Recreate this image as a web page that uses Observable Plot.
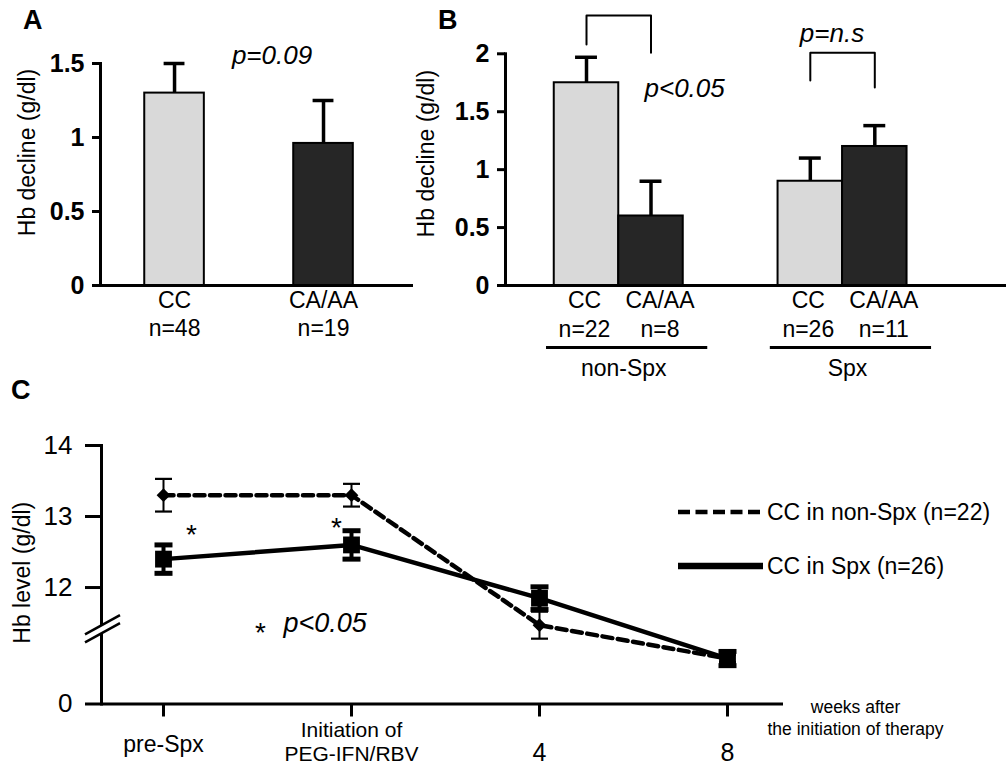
<!DOCTYPE html>
<html>
<head>
<meta charset="utf-8">
<script src="https://cdn.jsdelivr.net/npm/d3@7"></script>
<script src="https://cdn.jsdelivr.net/npm/@observablehq/plot@0.6"></script>
<style>
  html, body { margin: 0; padding: 0; background: #fff; }
  #fig { position: relative; width: 1006px; height: 770px; overflow: hidden; background: #fff;
         font-family: "Liberation Sans", Arial, Helvetica, sans-serif; color: #000; }
  .panel { position: absolute; }
  .letter { position: absolute; font-weight: bold; font-size: 27px; line-height: 1; }
  .bold-ticks g[aria-label="y-axis tick label"] text { font-weight: bold; }
  .legend-row { position: absolute; display: flex; align-items: center; font-size: 23px; white-space: nowrap; }
</style>
</head>
<body>
<div id="fig"></div>
<script>
// ---------------- data ----------------
// Panel A
const genotypesA = ["CC", "CA/AA"];
const nA = ["n=48", "n=19"];
const meanA = [1.30, 0.96];
const errA = [0.20, 0.29];
const ticksA = [0, 0.5, 1, 1.5];
const pA = "p=0.09";

// Panel B
const groupsB = ["non-Spx", "Spx"];
const genotypesB = ["CC", "CA/AA"];
const nB = [["n=22", "n=8"], ["n=26", "n=11"]];
const meanB = [[1.75, 0.60], [0.90, 1.20]];
const errB = [[0.22, 0.30], [0.20, 0.18]];
const ticksB = [0, 0.5, 1, 1.5, 2];
const pB = ["p<0.05", "p=n.s"];
// comparison brackets: [top, left end, right end]
const bracketB = [[2.33, 2.08, 2.01], [2.01, 1.77, 1.71]];

const yLabelAB = "Hb decline (g/dl)";

// Panel C
const timepoints = ["pre-Spx", "Initiation of\nPEG-IFN/RBV", "4", "8"];
const seriesC = ["CC in non-Spx (n=22)", "CC in Spx (n=26)"];
const hbNonSpx = [13.3, 13.3, 11.47, 11.0];
const errNonSpx = [0.23, 0.16, 0.19, 0.05];
const hbSpx = [12.4, 12.6, 11.85, 11.0];
const errSpx = [0.20, 0.20, 0.16, 0.10];
const ticksC = [0, 12, 13, 14];
const yLabelC = "Hb level (g/dl)";
const xNoteC = "weeks after\nthe initiation of therapy";
const sigNoteC = "p<0.05";
const sigAt = ["pre-Spx", "Initiation of\nPEG-IFN/RBV"];

// ---------------- styles / layout ----------------
const FONT = "'Liberation Sans', Arial, Helvetica, sans-serif";
const genotypeFill = ["#d9d9d9", "#262626"];
const fig = document.getElementById("fig");
function place(el, left, top) {
  el.classList.add("panel");
  el.style.left = left + "px";
  el.style.top = top + "px";
  fig.appendChild(el);
  return el;
}
const baseStyle = {fontFamily: FONT, fontSize: "23px", background: "transparent", overflow: "visible", color: "black"};
const fmtNum = d => String(d);

// ---------------- Panel A ----------------
const barHalfA = 0.2, capA = 0.07;
const rowsA = genotypesA.map((g, i) => ({genotype: g, slot: i, mean: meanA[i], err: errA[i], n: nA[i], fill: genotypeFill[i]}));
const plotA = Plot.plot({
  width: 420, height: 380,
  marginLeft: 100, marginRight: 7, marginTop: 63, marginBottom: 95,
  style: baseStyle,
  className: "bold-ticks",
  x: {type: "linear", domain: [-0.497, 1.604], axis: null},
  y: {domain: [0, 1.5], axis: null},
  color: {type: "identity"},
  marks: [
    Plot.rectY(rowsA, {x1: d => d.slot - barHalfA, x2: d => d.slot + barHalfA, y1: 0, y2: "mean", fill: "fill", stroke: "black", strokeWidth: 2}),
    Plot.ruleX(rowsA, {x: "slot", y1: "mean", y2: d => d.mean + d.err, strokeWidth: 3.5}),
    Plot.ruleY(rowsA, {y: d => d.mean + d.err, x1: d => d.slot - capA, x2: d => d.slot + capA, strokeWidth: 3.5}),
    Plot.axisY({ticks: ticksA, tickFormat: fmtNum, tickSize: 8, tickPadding: 8, strokeWidth: 3, fontSize: 25, fontWeight: "bold", label: null}),
    Plot.frame({anchor: "left", strokeWidth: 3}),
    Plot.ruleY([0], {strokeWidth: 3}),
    Plot.text(rowsA, {x: "slot", y: 0, text: "genotype", dy: 15, fontSize: 23}),
    Plot.text(rowsA, {x: "slot", y: 0, text: "n", dy: 43, fontSize: 23}),
    Plot.text([yLabelAB], {text: d => d, frameAnchor: "left", textAnchor: "middle", lineAnchor: "middle", rotate: -90, dx: -73, dy: -22, fontSize: 23}),
    Plot.text([pA], {text: d => d, frameAnchor: "top", textAnchor: "middle", lineAnchor: "middle", dx: 15, dy: -8, fontSize: 26, fontStyle: "italic"})
  ]
});
place(plotA, 0, 0);

// ---------------- Panel B ----------------
const groupStepB = 3.47, barHalfB = 0.5, capB = 0.17;
const labelDxB = [-2, 9];
const rowsB = groupsB.flatMap((grp, gi) => genotypesB.map((g, si) => ({
  group: grp, genotype: g, si, slot: gi * groupStepB + si,
  mean: meanB[gi][si], err: errB[gi][si], n: nB[gi][si], fill: genotypeFill[si]
})));
const groupRowsB = groupsB.map((grp, gi) => ({group: grp, center: gi * groupStepB + 0.5}));
const bracketRows = groupsB.flatMap((grp, gi) => {
  const [top, l, r] = bracketB[gi];
  const s0 = gi * groupStepB, s1 = s0 + 1;
  return [{grp, x: s0, y: l}, {grp, x: s0, y: top}, {grp, x: s1, y: top}, {grp, x: s1, y: r}];
});
const plotB = Plot.plot({
  width: 606, height: 380,
  marginLeft: 105, marginRight: 0, marginTop: 53.3, marginBottom: 95,
  style: baseStyle,
  className: "bold-ticks",
  x: {type: "linear", domain: [-1.256, 6.512], axis: null},
  y: {domain: [0, 2], axis: null},
  color: {type: "identity"},
  marks: [
    Plot.rectY(rowsB, {x1: d => d.slot - barHalfB, x2: d => d.slot + barHalfB, y1: 0, y2: "mean", fill: "fill", stroke: "black", strokeWidth: 2}),
    Plot.ruleX(rowsB, {x: "slot", y1: "mean", y2: d => d.mean + d.err, strokeWidth: 3.5}),
    Plot.ruleY(rowsB, {y: d => d.mean + d.err, x1: d => d.slot - capB, x2: d => d.slot + capB, strokeWidth: 3.5}),
    Plot.axisY({ticks: ticksB, tickFormat: fmtNum, tickSize: 8, tickPadding: 8, strokeWidth: 3, fontSize: 25, fontWeight: "bold", label: null}),
    Plot.frame({anchor: "left", strokeWidth: 3}),
    Plot.ruleY([0], {strokeWidth: 3}),
    Plot.line(bracketRows, {x: "x", y: "y", z: "grp", strokeWidth: 2}),
    ...genotypesB.map((g, si) => Plot.text(rowsB.filter(d => d.si === si), {x: "slot", y: 0, text: "genotype", dy: 15, dx: labelDxB[si], fontSize: 23})),
    ...genotypesB.map((g, si) => Plot.text(rowsB.filter(d => d.si === si), {x: "slot", y: 0, text: "n", dy: 44, dx: labelDxB[si], fontSize: 23})),
    Plot.ruleY(groupRowsB, {y: 0, x1: d => d.center - 1.12, x2: d => d.center + 1.38, dy: 62, strokeWidth: 3}),
    Plot.text(groupRowsB, {x: "center", y: 0, text: "group", dy: 83, dx: 5, fontSize: 23}),
    Plot.text([yLabelAB], {text: d => d, frameAnchor: "left", textAnchor: "middle", lineAnchor: "middle", rotate: -90, dx: -79, dy: -16, fontSize: 23}),
    Plot.text([pB[0]], {text: d => d, frameAnchor: "top-left", textAnchor: "start", lineAnchor: "middle", dx: 139, dy: 35, fontSize: 26, fontStyle: "italic"}),
    Plot.text([pB[1]], {text: d => d, frameAnchor: "top-left", textAnchor: "middle", lineAnchor: "middle", dx: 326.5, dy: -20, fontSize: 26, fontStyle: "italic"})
  ]
});
place(plotB, 400, 0);

// ---------------- Panel C ----------------
const yFloor = 10.36;   // value where the broken axis shows its "0"
const yBreak = 11.4;    // where the axis break marks sit
const brokenY = v => (v === 0 ? yFloor : v);
const rowsC = [
  ...timepoints.map((t, i) => ({series: seriesC[0], time: t, hb: hbNonSpx[i], err: errNonSpx[i]})),
  ...timepoints.map((t, i) => ({series: seriesC[1], time: t, hb: hbSpx[i], err: errSpx[i]}))
];
const nonSpx = rowsC.filter(d => d.series === seriesC[0]);
const spx = rowsC.filter(d => d.series === seriesC[1]);
const sigRows = sigAt.map(t => {
  const a = nonSpx.find(d => d.time === t), b = spx.find(d => d.time === t);
  return {time: t, mid: (a.hb + b.hb) / 2};
});
const timeLabelDy = [39.5, 37, 47.5, 47.5];
const timeLabelSize = [23, 21, 25, 25];
const sigDx = [28, -15];
const dashC = "10,5.5";
// horizontal error-bar cap drawn as a dot symbol (half-width = r)
const capSymbol = {draw(context, size) { const w = Math.sqrt(size / Math.PI); context.moveTo(-w, 0); context.lineTo(w, 0); }};

const plotC = Plot.plot({
  width: 1006, height: 390,
  marginLeft: 101, marginRight: 223, marginTop: 65, marginBottom: 66.5,
  style: baseStyle,
  x: {type: "point", domain: timepoints, padding: 0.307, align: 0.526, axis: null},
  y: {domain: [yFloor, 14], axis: null},
  marks: [
    Plot.axisY({ticks: ticksC.map(brokenY), tickFormat: d => (d === yFloor ? "0" : String(d)), tickSize: 16, tickPadding: 13, strokeWidth: 3, fontSize: 26, label: null}),
    Plot.axisX({tickSize: 13, strokeWidth: 3, tickFormat: () => "", label: null}),
    Plot.frame({anchor: "left", strokeWidth: 3}),
    Plot.ruleY([yFloor], {strokeWidth: 3}),
    Plot.line(nonSpx, {x: "time", y: "hb", strokeWidth: 4.5, strokeDasharray: dashC}),
    Plot.line(spx, {x: "time", y: "hb", strokeWidth: 4.5}),
    // error bars non-Spx (thin)
    Plot.ruleX(nonSpx, {x: "time", y1: d => d.hb - d.err, y2: d => d.hb + d.err, strokeWidth: 2}),
    Plot.dot(nonSpx, {x: "time", y: d => d.hb + d.err, symbol: capSymbol, r: 8.5, stroke: "black", fill: "none", strokeWidth: 2.2}),
    Plot.dot(nonSpx, {x: "time", y: d => d.hb - d.err, symbol: capSymbol, r: 8.5, stroke: "black", fill: "none", strokeWidth: 2.2}),
    // error bars Spx (thick)
    Plot.ruleX(spx, {x: "time", y1: d => d.hb - d.err, y2: d => d.hb + d.err, strokeWidth: 4}),
    Plot.dot(spx, {x: "time", y: d => d.hb + d.err, symbol: capSymbol, r: 9, stroke: "black", fill: "none", strokeWidth: 5}),
    Plot.dot(spx, {x: "time", y: d => d.hb - d.err, symbol: capSymbol, r: 9, stroke: "black", fill: "none", strokeWidth: 5}),
    Plot.dot(nonSpx, {x: "time", y: "hb", symbol: "diamond2", r: 6.2, fill: "black", stroke: null}),
    Plot.dot(spx, {x: "time", y: "hb", symbol: "square", r: 9.5, fill: "black", stroke: null}),
    // significance asterisks between the two curves
    ...sigRows.map((d, i) => Plot.text([d], {x: "time", y: "mid", text: () => "*", dx: sigDx[i], dy: 8, fontSize: 28})),
    Plot.text(["*"], {text: d => d, frameAnchor: "top-left", textAnchor: "middle", lineAnchor: "middle", dx: 159, dy: 188, fontSize: 28}),
    Plot.text([sigNoteC], {text: d => d, frameAnchor: "top-left", textAnchor: "start", lineAnchor: "middle", dx: 182, dy: 178, fontSize: 27, fontStyle: "italic"}),
    // tick labels of the time axis
    ...timepoints.map((t, i) => Plot.text([t], {x: d => d, y: yFloor, text: d => d, dy: timeLabelDy[i], fontSize: timeLabelSize[i], lineHeight: 1.18})),
    Plot.text([xNoteC], {text: d => d, frameAnchor: "bottom-right", textAnchor: "middle", lineAnchor: "middle", dx: 72, dy: 12.5, fontSize: 17.5, lineHeight: 1.26}),
    Plot.text([yLabelC], {text: d => d, frameAnchor: "left", textAnchor: "middle", lineAnchor: "middle", rotate: -90, dx: -79, dy: -2, fontSize: 23})
  ]
});
// axis break marks, positioned with the plot's own y scale
(function drawBreak() {
  const yb = plotC.scale("y").apply(yBreak);
  const x0 = 101, xa = 85, xb = 120, s = -0.55, h = 4;
  const yAt = (x, off) => yb + off + s * (x - x0);
  const g = d3.select(plotC).append("g");
  g.append("polygon")
    .attr("points", [[xa, yAt(xa, -h)], [xb, yAt(xb, -h)], [xb, yAt(xb, h)], [xa, yAt(xa, h)]].map(p => p.join(",")).join(" "))
    .attr("fill", "white");
  [-h, h].forEach(off => g.append("line")
    .attr("x1", xa).attr("y1", yAt(xa, off)).attr("x2", xb).attr("y2", yAt(xb, off))
    .attr("stroke", "black").attr("stroke-width", 2.5));
})();
place(plotC, 0, 380);

// legend for panel C
const legendStyle = [{dash: "12,5.5", width: 4.5}, {dash: null, width: 6.5}];
const legendTop = [497, 551];
seriesC.forEach((label, i) => {
  const row = document.createElement("div");
  row.className = "legend-row";
  row.style.left = "678px";
  row.style.top = legendTop[i] + "px";
  const svg = d3.create("svg").attr("width", 86).attr("height", 30);
  svg.append("line").attr("x1", 0).attr("x2", 85).attr("y1", 15).attr("y2", 15)
    .attr("stroke", "black").attr("stroke-width", legendStyle[i].width)
    .attr("stroke-dasharray", legendStyle[i].dash);
  row.appendChild(svg.node());
  const span = document.createElement("span");
  span.textContent = label;
  span.style.marginLeft = "3px";
  row.appendChild(span);
  fig.appendChild(row);
});

// panel letters
[["A", 23, 7], ["B", 438, 7], ["C", 11, 377]].forEach(([t, l, tp]) => {
  const d = document.createElement("div");
  d.className = "letter";
  d.textContent = t;
  d.style.left = l + "px";
  d.style.top = tp + "px";
  fig.appendChild(d);
});
</script>
</body>
</html>
